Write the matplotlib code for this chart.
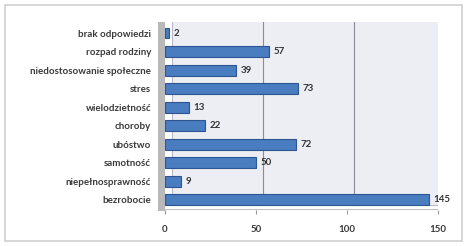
import matplotlib
matplotlib.use('Agg')
import matplotlib.pyplot as plt
import matplotlib.transforms as mtransforms
from matplotlib.patches import Rectangle
import numpy as np

categories = ['brak odpowiedzi', 'rozpad rodziny', 'niedostosowanie społeczne', 'stres',
              'wielodzietność', 'choroby', 'ubóstwo', 'samotność',
              'niepełnosprawność', 'bezrobocie']
values = [2, 57, 39, 73, 13, 22, 72, 50, 9, 145]
xticks = [0, 50, 100, 150]

plt.rcParams['font.family'] = ['Lato', 'DejaVu Sans']

fig = plt.figure(figsize=(4.65, 2.46), dpi=100)
fig.patches.append(Rectangle((5/465, 5/246), 457/465, 236/246, transform=fig.transFigure,
                             facecolor='white', edgecolor='#cfcfcf', lw=1.2, zorder=-5))
ax = fig.add_axes([165/465, 36/246, 273/465, 188/246])
ax.set_xlim(0, 150)
ax.set_ylim(len(categories) - 0.45, -0.6)
ax.patch.set_visible(False)

# back wall shifted for the 3d look
back = mtransforms.offset_copy(ax.transData, fig=fig, x=7, y=4, units='dots')
ax.add_patch(Rectangle((0, -0.6), 150, len(categories) + 0.1, transform=back,
                       facecolor='#eceef4', edgecolor='#b8b8c4', lw=0.8, zorder=0))
for g in xticks[1:-1]:
    ax.plot([g, g], [-0.6, len(categories) - 0.5], transform=back, color='#8c8c98', lw=0.8, zorder=1)
# floor and left wall
ax.add_patch(Rectangle((0, len(categories) - 0.5), 150, 0.12, facecolor='#bdbdbd', zorder=1,
                       edgecolor='none'))
ax.add_patch(Rectangle((-3.8, -0.6), 3.8, len(categories) + 0.2, facecolor='#b9b9b9',
                       edgecolor='none', clip_on=False, zorder=1))

y = np.arange(len(categories))
ax.barh(y, values, height=0.58, color='#4a7cc0', edgecolor='#2c5592', lw=0.8, zorder=3)
for yi, v in zip(y, values):
    ax.text(v + 2.5, yi, str(v), va='center', ha='left', fontsize=7, fontweight='bold',
            color='#333333', zorder=4)

ax.set_yticks(y)
ax.set_yticklabels(categories, fontsize=7, fontweight='bold', color='#3a3a3a')
ax.set_xticks(xticks)
ax.set_xticklabels([str(t) for t in xticks], fontsize=7, fontweight='bold', color='#3a3a3a')
ax.tick_params(axis='y', length=0, pad=10)
ax.tick_params(axis='x', length=3, color='#999999', pad=8)
for s in ax.spines.values():
    s.set_visible(False)

fig.savefig('out.png', dpi=100)
